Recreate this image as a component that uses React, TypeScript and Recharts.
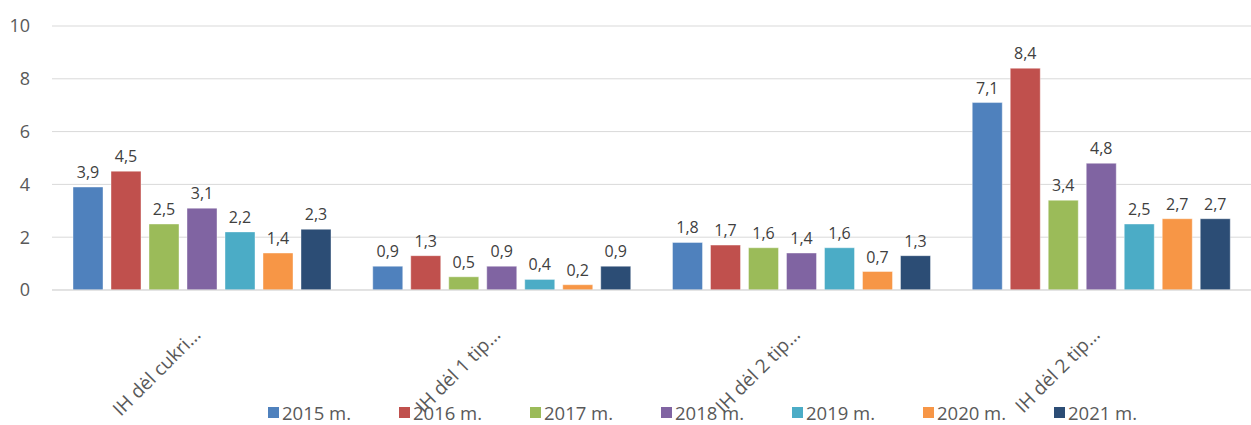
import { BarChart, Bar, XAxis, YAxis, CartesianGrid, LabelList, Legend } from 'recharts';

const categories = ['IH dėl cukri...', 'IH dėl 1 tip...', 'IH dėl 2 tip...', 'IH dėl 2 tip...'];
const years = ['2015 m.', '2016 m.', '2017 m.', '2018 m.', '2019 m.', '2020 m.', '2021 m.'];
const colors = ['#4F81BD', '#C0504D', '#9BBB59', '#8064A2', '#4BACC6', '#F79646', '#2C4D75'];

const v2015 = [3.9, 0.9, 1.8, 7.1];
const v2016 = [4.5, 1.3, 1.7, 8.4];
const v2017 = [2.5, 0.5, 1.6, 3.4];
const v2018 = [3.1, 0.9, 1.4, 4.8];
const v2019 = [2.2, 0.4, 1.6, 2.5];
const v2020 = [1.4, 0.2, 0.7, 2.7];
const v2021 = [2.3, 0.9, 1.3, 2.7];

const seriesValues = [v2015, v2016, v2017, v2018, v2019, v2020, v2021];
const yTicks = [0, 2, 4, 6, 8, 10];

const data = categories.map((name, i) => {
  const row: Record<string, string | number> = { name };
  years.forEach((y, s) => {
    row[y] = seriesValues[s][i];
  });
  return row;
});

const font = '"Open Sans", "Noto Sans", sans-serif';

function CategoryTick(props: any) {
  const { x, payload } = props;
  const ty = 336;
  return (
    <text
      x={x}
      y={ty}
      textAnchor='end'
      fill='#595959'
      fontSize={19}
      fontFamily={font}
      transform={`rotate(-45, ${x}, ${ty})`}
    >
      {payload.value}
    </text>
  );
}

function LegendContent() {
  return (
    <div style={{ position: 'relative', height: 26, fontFamily: font, fontSize: 18.5, color: '#595959' }}>
      {years.map((y, i) => (
        <div
          key={y}
          style={{ position: 'absolute', left: 268 + i * 131, top: 0, display: 'flex', alignItems: 'center' }}
        >
          <span style={{ width: 11, height: 11, background: colors[i], display: 'inline-block', marginRight: 3 }} />
          <span>{y}</span>
        </div>
      ))}
    </div>
  );
}

export default function App() {
  return (
    <div style={{ position: 'absolute', left: 0, top: 0, background: '#fff' }}>
      <BarChart
        width={1251}
        height={425}
        data={data}
        margin={{ top: 26, right: 0, bottom: 0, left: 0 }}
        barGap={8}
        barCategoryGap={21}
      >
        <CartesianGrid vertical={false} stroke='#d9d9d9' />
        <XAxis
          dataKey='name'
          tick={<CategoryTick />}
          tickLine={false}
          axisLine={{ stroke: '#d9d9d9' }}
          height={135}
          interval={0}
        />
        <YAxis
          domain={[0, 10]}
          ticks={yTicks}
          width={52}
          tickLine={false}
          axisLine={false}
          tickMargin={16}
          tick={{ fill: '#595959', fontSize: 18, fontFamily: font }}
        />
        <Legend
          verticalAlign='middle'
          align='center'
          content={<LegendContent />}
          wrapperStyle={{ top: 400, left: 0, width: 1251 }}
        />
        {years.map((y, i) => (
          <Bar key={y} dataKey={y} fill={colors[i]} stroke='#ffffff' strokeOpacity={0.4} isAnimationActive={false}>
            <LabelList
              dataKey={y}
              position='top'
              offset={9}
              fill='#404040'
              fontSize={16}
              fontFamily={font}
              formatter={(v: any) => String(v).replace('.', ',')}
            />
          </Bar>
        ))}
      </BarChart>
    </div>
  );
}
